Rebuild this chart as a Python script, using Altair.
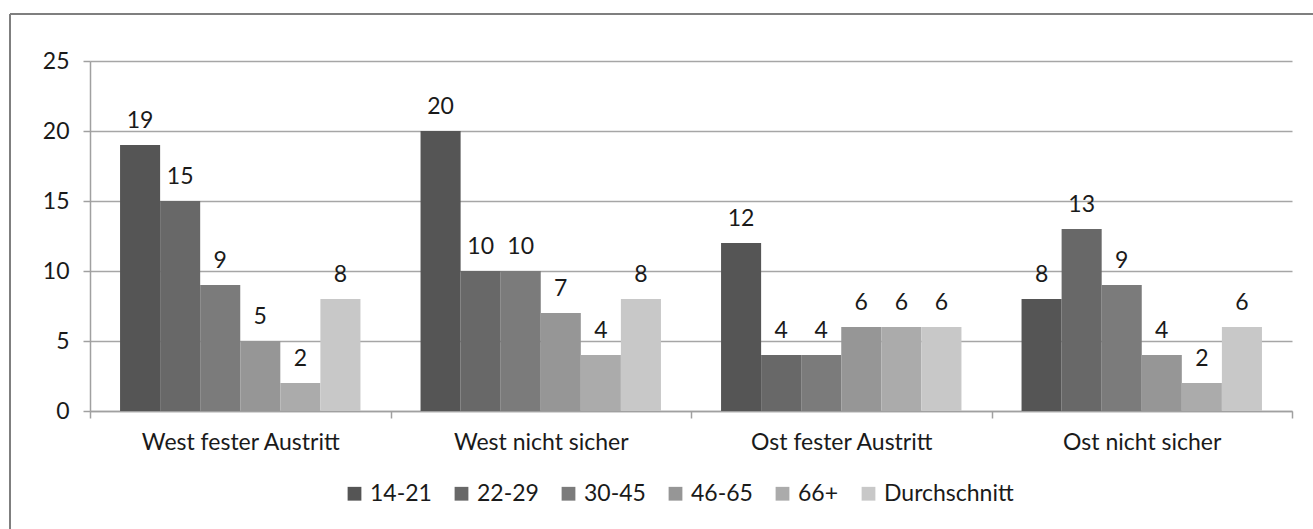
import altair as alt
import pandas as pd

categories = ["West fester Austritt", "West nicht sicher", "Ost fester Austritt", "Ost nicht sicher"]
series = ["14-21", "22-29", "30-45", "46-65", "66+", "Durchschnitt"]
v_14_21 = [19, 20, 12, 8]
v_22_29 = [15, 10, 4, 13]
v_30_45 = [9, 10, 4, 9]
v_46_65 = [5, 7, 6, 4]
v_66 = [2, 4, 6, 2]
v_avg = [8, 8, 6, 6]
y_ticks = [0, 5, 10, 15, 20, 25]
colors = ["#555555", "#686868", "#7b7b7b", "#969696", "#ababab", "#c8c8c8"]

all_values = [v_14_21, v_22_29, v_30_45, v_46_65, v_66, v_avg]
rows = []
for s, vals in zip(series, all_values):
    for c, v in zip(categories, vals):
        rows.append({"Kategorie": c, "Gruppe": s, "Wert": v})
df = pd.DataFrame(rows)

FONT = "Lato"
FS = 23
TXT = "#1a1a1a"

x_enc = alt.X("Kategorie:N", sort=categories,
              scale=alt.Scale(paddingInner=0, paddingOuter=0),
              axis=alt.Axis(title=None, labelAngle=0, tickBand="extent", tickSize=7,
                            tickColor="#a0a0a0", domainColor="#a0a0a0", domainWidth=1.5,
                            tickWidth=1.5, labelPadding=13, labelFontSize=FS, labelLimit=0,
                            labelColor=TXT, labelFont=FONT, grid=False))
xo_enc = alt.XOffset("Gruppe:N", sort=series,
                     scale=alt.Scale(paddingInner=0, paddingOuter=0.75))
y_enc = alt.Y("Wert:Q", scale=alt.Scale(domain=[0, 25], nice=False),
              axis=alt.Axis(title=None, values=y_ticks, tickSize=7, tickColor="#a0a0a0",
                            tickWidth=1.5, domainColor="#a0a0a0", domainWidth=1.5,
                            gridColor="#a6a6a6", gridWidth=1.5, labelPadding=14,
                            labelFontSize=FS, labelColor=TXT, labelFont=FONT))

bars = alt.Chart(df).mark_bar(stroke=None).encode(
    x=x_enc,
    xOffset=xo_enc,
    y=y_enc,
    color=alt.Color("Gruppe:N", sort=series,
                    scale=alt.Scale(domain=series, range=colors),
                    legend=alt.Legend(title=None, orient="none", direction="horizontal",
                                      legendX=253, legendY=421, symbolType="square",
                                      symbolSize=190, symbolStrokeWidth=0,
                                      labelFontSize=FS, labelFont=FONT, labelColor=TXT,
                                      columnPadding=18, labelOffset=4)),
)

labels = alt.Chart(df).mark_text(baseline="alphabetic", dy=-17, fontSize=FS, font=FONT,
                                 color=TXT).encode(
    x=alt.X("Kategorie:N", sort=categories),
    xOffset=alt.XOffset("Gruppe:N", sort=series),
    y="Wert:Q",
    text="Wert:Q",
)

frame_top = alt.Chart(df).mark_rule(color="#7f7f7f", strokeWidth=2).encode(
    x=alt.value(-80), x2=alt.value(1240), y=alt.value(-47))
frame_left = alt.Chart(df).mark_rule(color="#7f7f7f", strokeWidth=2).encode(
    x=alt.value(-80), y=alt.value(-47), y2=alt.value(480))

chart = alt.layer(frame_top, frame_left, bars, labels).properties(
    width=1202, height=350,
    autosize=alt.AutoSizeParams(type="none"),
    padding={"left": 90, "top": 61, "right": 21, "bottom": 118},
    background="white",
).configure_view(stroke=None)

chart.save("out.html", embed_options={"renderer": "svg", "actions": False})
